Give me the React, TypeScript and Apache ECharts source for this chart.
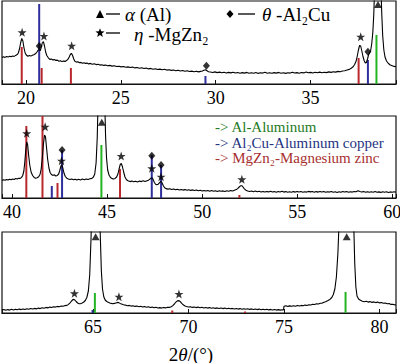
import React, { useEffect, useRef } from "react";
import * as echarts from "echarts";

// ---- X-ray diffraction scans: [2θ (°), intensity (a.u.)] ----
const scan1: [number, number][] = [
[18.74,26.5],[18.82,27.3],[18.9,26.6],[18.98,27.5],[19.06,26.9],[19.14,27.8],[19.22,27.2],[19.3,28.1],[19.38,27.6],[19.46,28.6],[19.54,29.4],[19.6,31],[19.66,35],[19.72,41],[19.78,45.5],[19.84,43],[19.9,36],[19.96,31],[20.02,29],[20.1,27.8],[20.18,28.4],[20.26,27.9],[20.34,28.8],[20.42,29.3],[20.5,30.2],[20.58,32],[20.64,33.8],[20.7,34.5],[20.75,33.2],[20.8,36],[20.86,41],[20.92,42.3],[20.98,38],[21.04,32],[21.1,28.5],[21.18,26.2],[21.26,24.6],[21.34,24.9],[21.42,24.1],[21.5,24.4],[21.58,23.6],[21.66,23.9],[21.74,22.8],[21.82,23.3],[21.9,22.4],[21.98,22.9],[22.06,22.6],[22.14,23.4],[22.22,24.8],[22.28,27],[22.34,29.5],[22.4,30.7],[22.46,28.5],[22.52,25],[22.58,22.8],[22.66,21.9],[22.74,22.3],[22.82,21.2],[22.9,21.6],[22.98,20.8],[23.06,21.3],[23.14,20.6],[23.22,20.9],[23.3,20.1],[23.4,20.6],[23.5,19.8],[23.6,20.2],[23.7,19.4],[23.8,19.7],[23.9,18.9],[24.0,19.3],[24.1,18.6],[24.2,18.9],[24.3,18.2],[24.42,18.6],[24.54,17.9],[24.66,18.2],[24.78,17.5],[24.9,17.8],[25.02,17.1],[25.14,17.5],[25.26,16.8],[25.38,17.1],[25.5,16.5],[25.62,16.9],[25.74,16.1],[25.86,16.5],[25.98,15.8],[26.1,16.2],[26.22,15.5],[26.34,15.9],[26.46,15.1],[26.58,15.6],[26.7,14.8],[26.82,15.2],[26.94,14.5],[27.06,14.9],[27.18,14.2],[27.3,14.7],[27.42,13.9],[27.54,14.3],[27.66,13.6],[27.78,14.0],[27.9,13.3],[28.02,13.8],[28.14,13.0],[28.26,13.5],[28.38,12.7],[28.5,13.2],[28.62,12.5],[28.74,12.9],[28.86,12.2],[28.98,12.7],[29.1,12.1],[29.2,12.6],[29.3,13.0],[29.38,13.8],[29.46,14.2],[29.54,13.3],[29.62,12.3],[29.72,12.0],[29.84,11.5],[29.96,12.1],
[30.08,11.4],[30.2,11.9],[30.32,11.2],[30.44,11.7],[30.56,11.0],[30.68,11.6],[30.8,11.1],[30.92,11.8],[31.04,11.0],[31.16,11.5],[31.28,10.8],[31.4,11.4],[31.52,10.9],[31.64,11.6],[31.76,10.7],[31.88,11.3],[32.0,10.8],[32.12,11.5],[32.24,10.6],[32.36,11.2],[32.48,10.9],[32.6,11.7],[32.72,10.8],[32.84,11.3],[32.96,10.7],[33.08,11.4],[33.2,10.9],[33.32,11.6],[33.44,10.8],[33.56,11.2],[33.68,10.6],[33.8,11.3],[33.92,10.9],[34.04,11.7],[34.16,11.0],[34.28,11.4],[34.4,10.8],[34.52,11.5],[34.64,11.1],[34.76,12.0],[34.88,11.2],[35.0,11.6],[35.12,11.0],[35.24,11.7],[35.36,11.2],[35.48,11.9],[35.6,11.3],[35.72,11.8],[35.84,11.4],[35.96,12.1],[36.08,11.6],[36.2,12.3],[36.32,11.9],[36.44,12.6],[36.56,12.3],[36.68,13.0],[36.8,13.2],[36.92,14.0],[37.04,14.6],[37.14,15.8],[37.24,17.2],[37.32,19.5],[37.4,23],[37.46,28],[37.52,34],[37.58,38.5],[37.64,38],[37.7,33],[37.76,27.5],[37.82,23.5],[37.88,21],[37.94,21.5],[38.0,25],[38.05,29],[38.1,31],[38.16,33],[38.22,40],[38.28,52],[38.33,70],[38.38,100],[38.55,140],[38.7,100],[38.75,70],[38.8,48],[38.86,34],[38.92,27],[39.0,23],[39.1,20.5],[39.2,19],[39.3,18.3],[39.4,17.6],[39.5,17.2]
];

const scan2: [number, number][] = [
[39.47,17.6],[39.55,18.3],[39.63,17.8],[39.71,18.6],[39.79,18.0],[39.87,18.8],[39.95,18.3],[40.03,19.1],[40.11,18.6],[40.19,19.4],[40.27,18.9],[40.35,19.7],[40.43,19.6],[40.5,20.6],[40.56,22.5],[40.62,27],[40.67,36],[40.72,48],[40.77,56],[40.82,53],[40.87,43],[40.93,33],[41.0,26],[41.08,22.5],[41.16,20.6],[41.24,19.8],[41.32,20.3],[41.4,21.2],[41.47,23.5],[41.53,29],[41.59,40],[41.65,54],[41.71,63],[41.76,61],[41.81,51],[41.87,39],[41.94,30],[42.0,25.5],[42.07,23.5],[42.14,22.6],[42.22,23.2],[42.3,22.0],[42.38,22.6],[42.45,24],[42.51,27.5],[42.57,32],[42.62,33],[42.67,30],[42.73,25],[42.8,21.5],[42.88,19.8],[42.96,19.0],[43.05,18.4],[43.14,19.0],[43.23,18.2],[43.32,18.8],[43.41,18.0],[43.5,18.7],[43.6,18.1],[43.7,18.9],[43.8,18.2],[43.9,19.0],[44.0,18.4],[44.1,19.2],[44.2,19.6],[44.28,21],[44.35,24],[44.42,35],[44.48,60],[44.53,100],[44.58,140],[44.7,165],[44.82,140],[44.87,100],[44.92,62],[44.97,40],[45.03,28],[45.1,23],[45.18,20.5],[45.26,19.4],[45.34,19.0],[45.42,19.6],[45.5,21],[45.57,24],[45.63,29],[45.69,33.5],[45.75,34.5],[45.81,31],[45.87,26],[45.94,21],[46.02,18.3],[46.1,17.2],[46.2,16.4],[46.3,16.9],[46.4,16.2],[46.5,16.8],[46.6,16.1],[46.7,16.9],[46.8,16.4],[46.9,17.2],[47.0,16.6],[47.1,17.3],[47.18,17.8],[47.25,18.9],[47.31,19.8],[47.36,20.2],[47.42,18.6],[47.48,15.8],[47.55,13.8],[47.62,13.2],[47.69,13.8],[47.75,15.2],[47.8,16.2],[47.85,16.5],[47.9,14.8],[47.96,12.2],[48.03,10.3],[48.1,9.4],[48.2,8.9],[48.3,9.3],[48.4,8.5],[48.5,9.0],[48.6,8.2],[48.7,8.8],[48.8,8.0],[48.9,8.6],[49.0,7.9],[49.1,8.4],[49.2,7.7],[49.3,8.3],[49.4,7.6],[49.5,8.1],[49.6,7.4],[49.7,8.0],[49.8,7.2],[49.9,7.8],[50.0,7.0],[50.1,7.6],[50.2,6.9],[50.3,7.5],[50.4,6.8],[50.5,7.4],[50.6,6.7],[50.7,7.2],[50.8,6.6],[50.9,7.3],[51.0,6.7],[51.1,7.1],[51.2,6.5],[51.3,7.2],[51.4,6.8],[51.5,7.4],[51.6,7.0],[51.7,7.8],[51.8,8.4],[51.88,9.6],[51.95,11],[52.02,12.2],[52.09,12.3],[52.15,11],[52.22,9.2],[52.3,7.8],[52.4,7.0],[52.5,6.5],[52.6,7.0],[52.7,6.3],[52.8,6.9],[52.9,6.2],[53.0,6.7],[53.1,6.0],[53.2,6.6],[53.3,5.9],[53.4,6.5],[53.5,6.1],[53.6,6.8],[53.7,6.0],[53.8,6.4],[53.9,5.8],[54.0,6.5],[54.1,6.0],[54.2,6.7],[54.3,5.9],[54.4,6.4],[54.5,5.8],[54.6,6.3],[54.7,5.7],[54.8,6.4],[54.9,5.9],[55.0,6.6],[55.1,6.0],[55.2,6.5],[55.3,5.8],[55.4,6.3],[55.5,5.9],[55.6,6.6],[55.7,6.1],[55.8,6.5],[55.9,5.8],[56.0,6.4],[56.1,5.9],[56.2,6.6],[56.3,6.0],[56.4,6.5],[56.5,5.7],[56.6,6.3],[56.7,5.9],[56.8,6.5],[56.9,5.8],[57.0,6.2],[57.1,5.6],[57.2,6.3],[57.3,5.8],[57.4,6.6],[57.5,6.0],[57.6,6.4],[57.7,5.8],[57.8,6.3],[57.9,5.9],[58.0,6.5],[58.1,6.3],[58.2,7.2],[58.3,6.5],[58.4,6.0],[58.5,6.4],[58.6,5.8],[58.7,6.3],[58.8,5.7],[58.9,6.2],[59.0,5.8],[59.1,6.4],[59.2,5.7],[59.3,6.1],[59.4,5.6],[59.5,6.3],[59.6,5.8],[59.7,6.2],[59.8,5.5],[59.9,6.1],[60.0,5.7],[60.1,6.2],[60.2,5.8]
];

const scan3: [number, number][] = [
[60.24,3.0],[60.34,3.6],[60.44,2.8],[60.54,3.4],[60.64,2.9],[60.74,3.7],[60.84,3.1],[60.94,3.8],[61.04,3.2],[61.14,3.9],[61.24,3.4],[61.34,4.1],[61.44,3.5],[61.54,4.2],[61.64,3.8],[61.74,4.5],[61.84,3.9],[61.94,4.6],[62.04,4.1],[62.14,4.9],[62.24,4.4],[62.34,5.2],[62.44,4.8],[62.54,5.6],[62.64,5.1],[62.74,5.9],[62.84,5.5],[62.94,6.3],[63.04,5.9],[63.14,6.6],[63.24,6.2],[63.34,7.0],[63.44,6.7],[63.54,7.4],[63.64,7.6],[63.72,8.6],[63.8,10.2],[63.88,12],[63.96,13.6],[64.04,13.2],[64.12,11.5],[64.2,10],[64.28,9.2],[64.36,9.4],[64.44,10],[64.52,11],[64.6,12.5],[64.68,15.5],[64.76,22],[64.83,38],[64.9,75],[64.97,130],[65.15,170],[65.32,130],[65.38,80],[65.44,42],[65.5,24],[65.57,16],[65.64,13],[65.72,11.5],[65.8,10.8],[65.88,10.1],[65.96,9.6],[66.04,9.2],[66.12,9.6],[66.2,10.1],[66.28,10.6],[66.35,10.4],[66.42,9.6],[66.5,8.9],[66.6,8.2],[66.7,7.9],[66.8,7.3],[66.9,7.6],[67.0,6.9],[67.1,7.2],[67.2,6.6],[67.3,6.9],[67.4,6.3],[67.5,6.7],[67.6,6.0],[67.7,6.4],[67.8,5.8],[67.9,6.2],[68.0,5.5],[68.1,5.9],[68.2,5.2],[68.3,5.7],[68.4,5.0],[68.5,5.4],[68.6,4.9],[68.7,5.5],[68.8,5.1],[68.9,5.8],[69.0,5.6],[69.1,6.3],[69.18,7.4],[69.26,9.0],[69.34,10.8],[69.42,12.1],[69.5,12.4],[69.58,11.2],[69.66,9.4],[69.74,8.0],[69.82,7.0],[69.9,6.5],[70.0,6.0],[70.1,6.3],[70.2,5.6],[70.3,6.0],[70.4,5.4],[70.5,5.9],[70.6,5.2],[70.7,5.7],[70.8,5.0],[70.9,5.5],[71.0,4.9],[71.1,5.4],[71.2,4.7],[71.3,5.2],[71.4,4.6],[71.5,5.1],[71.6,4.5],[71.7,5.0],[71.8,4.4],[71.9,4.9],[72.0,4.3],[72.1,4.8],[72.2,4.2],[72.3,4.6],[72.4,4.0],[72.5,4.5],[72.6,3.9],[72.7,4.4],[72.8,3.8],[72.9,4.3],[73.0,3.7],[73.1,4.2],[73.2,3.6],[73.3,4.1],[73.4,3.5],[73.5,4.1],[73.6,3.4],[73.7,3.9],[73.8,3.3],[73.9,3.8],[74.0,3.2],[74.1,3.7],[74.2,3.1],[74.3,3.6],[74.4,3.0],[74.5,3.5],[74.6,2.9],[74.7,3.4],[74.8,2.9],[74.9,3.3],[74.97,3.0],[75.0,6.8],[75.1,7.2],[75.2,6.6],[75.3,7.1],[75.4,6.7],[75.5,7.3],[75.6,6.8],[75.7,7.5],[75.8,7.0],[75.9,7.6],[76.0,7.2],[76.1,7.9],[76.2,7.5],[76.3,8.2],[76.4,8.0],[76.5,8.7],[76.6,8.5],[76.7,9.2],[76.8,9.0],[76.9,9.8],[77.0,9.9],[77.1,10.8],[77.2,11.6],[77.3,12.5],[77.4,13.6],[77.5,15.5],[77.58,18.5],[77.66,24],[77.74,36],[77.82,60],[77.9,100],[77.98,150],[78.3,175],[78.58,150],[78.64,95],[78.7,50],[78.76,26],[78.82,17],[78.9,14],[79.0,12.8],[79.1,11.8],[79.2,11.3],[79.3,11.7],[79.4,10.9],[79.5,11.4],[79.6,10.6],[79.7,11.1],[79.8,10.4],[79.9,10.9],[80.0,10.1],[80.1,10.5],[80.2,9.7],[80.3,9.9],[80.4,9.2],[80.5,9.4],[80.6,8.6],[80.7,8.8],[80.8,8.1],[80.86,8.3]
];

// Reference (PDF card) lines: [2θ, relative height, phase] phase 0=Al, 1=Al2Cu, 2=MgZn2
const sticks1: [number, number, number][] = [[19.78,37,2],[20.70,80,1],[20.83,16,2],[22.37,16,2],[29.46,8,1],[37.53,26,2],[38.02,24,1],[38.47,49,0]];
const sticks2: [number, number, number][] = [[40.75,72,2],[41.6,83,2],[42.09,12,1],[42.39,15,2],[42.63,48,1],[44.7,53,0],[45.68,29,2],[47.35,43,1],[47.84,33,1],[51.96,3,2]];
const sticks3: [number, number, number][] = [[64.98,3,1],[65.1,20,0],[69.15,2.5,2],[72.96,1.5,2],[78.22,21,0]];

// Phase markers above peaks: [2θ, height]
const stars1: [number, number][] = [[19.8,51.7],[20.95,48],[22.41,38.3],[37.64,47.3]];
const diamonds1: [number, number][] = [[20.70,38],[29.51,18.3],[38.02,32.3]];
const triangles1: [number, number][] = [[38.55,79.5]];
const stars2: [number, number][] = [[40.77,64.7],[41.74,71.3],[42.6,37.3],[45.74,42],[47.35,29.7],[47.84,21.3],[52.09,18.7]];
const diamonds2: [number, number][] = [[42.63,48],[47.35,42.3],[47.84,33]];
const triangles2: [number, number][] = [[44.72,75.7]];
const stars3: [number, number][] = [[64.03,19.7],[66.36,16.3],[69.5,19]];
const diamonds3: [number, number][] = [];
const triangles3: [number, number][] = [[65.14,76.3],[78.28,76.3]];

const xRanges: [number, number][] = [[18.74, 39.5], [39.47, 60.2], [60.24, 80.86]];
const tickLabels1 = [20, 25, 30, 35];
const tickLabels2 = [40, 45, 50, 55, 60];
const tickLabels3 = [65, 70, 75, 80];
const phaseColors = ["#22b422", "#2e2e9c", "#b8282c"];
const phaseNotes = ["-> Al-Aluminum", "-> Al₂Cu-Aluminum copper", "-> MgZn₂-Magnesium zinc"];
const phaseNoteColors = ["#1f7a24", "#26337f", "#a8302f"];

const FONT = "Liberation Serif";
const STAR = "path://M50,0 L61.8,35.1 L97.6,34.5 L69,56.2 L79.4,90.5 L50,70 L20.6,90.5 L31,56.2 L2.4,34.5 L38.2,35.1 Z";

const grids = [
  { left: 2, right: 4, top: 1, height: 83 },
  { left: 2, right: 4, top: 116, height: 82 },
  { left: 2, right: 4, top: 232, height: 81 },
];

function starPoints(cx: number, cy: number, r: number) {
  const pts: number[][] = [];
  for (let i = 0; i < 10; i++) {
    const a = -Math.PI / 2 + (i * Math.PI) / 5;
    const rr = i % 2 === 0 ? r : r * 0.42;
    pts.push([cx + rr * Math.cos(a), cy + rr * Math.sin(a)]);
  }
  return pts;
}

let measureCtx: CanvasRenderingContext2D | null = null;
function textWidth(t: string, size: number, italic: boolean) {
  if (!measureCtx) measureCtx = document.createElement("canvas").getContext("2d");
  if (!measureCtx) return t.length * size * 0.5;
  measureCtx.font = `${italic ? "italic " : ""}${size}px "${FONT}"`;
  return measureCtx.measureText(t).width;
}

type Seg = { t: string; it?: boolean };
function segText(x: number, y: number, segs: Seg[], size: number, fill: string, center = false) {
  const widths = segs.map((s) => textWidth(s.t, size, !!s.it));
  const total = widths.reduce((a, b) => a + b, 0);
  let cx = center ? x - total / 2 : x;
  return segs.map((s, k) => {
    const el = {
      type: "text",
      x: cx,
      y,
      style: { text: s.t, fontFamily: FONT, fontSize: size, fontStyle: s.it ? "italic" : "normal", fill, align: "left", verticalAlign: "middle" },
    };
    cx += widths[k];
    return el;
  });
}

export default function App() {
  const ref = useRef<HTMLDivElement>(null);
  useEffect(() => {
    if (!ref.current) return;
    const chart = echarts.init(ref.current, undefined, { renderer: "svg" });
    const scans = [scan1, scan2, scan3];
    const sticks = [sticks1, sticks2, sticks3];
    const stars = [stars1, stars2, stars3];
    const diamonds = [diamonds1, diamonds2, diamonds3];
    const triangles = [triangles1, triangles2, triangles3];
    const tickLabels = [tickLabels1, tickLabels2, tickLabels3];

    const series: any[] = [];
    for (let i = 0; i < 3; i++) {
      series.push({
        type: "custom",
        xAxisIndex: i,
        yAxisIndex: i,
        clip: true,
        data: sticks[i],
        renderItem: (_p: any, api: any) => {
          const x = api.value(0);
          const h = api.value(1);
          const k = api.value(2);
          const a = api.coord([x, 0]);
          const b = api.coord([x, h]);
          return {
            type: "line",
            shape: { x1: a[0], y1: a[1], x2: b[0], y2: b[1] },
            style: { stroke: phaseColors[k], lineWidth: 2 },
          };
        },
        z: 1,
      });
      series.push({
        type: "line",
        xAxisIndex: i,
        yAxisIndex: i,
        data: scans[i],
        symbol: "none",
        showSymbol: false,
        clip: true,
        lineStyle: { color: "#000", width: 1.1 },
        z: 2,
      });
      series.push({ type: "scatter", xAxisIndex: i, yAxisIndex: i, data: stars[i], symbol: STAR, symbolSize: 9, itemStyle: { color: "#000" }, z: 3 });
      series.push({ type: "scatter", xAxisIndex: i, yAxisIndex: i, data: diamonds[i], symbol: "diamond", symbolSize: [7, 8], itemStyle: { color: "#000" }, z: 3 });
      series.push({ type: "scatter", xAxisIndex: i, yAxisIndex: i, data: triangles[i], symbol: "triangle", symbolSize: [8, 7], itemStyle: { color: "#000" }, z: 3 });
    }

    const option: any = {
      animation: false,
      grid: grids.map((g) => ({ ...g, show: true, borderColor: "#111", borderWidth: 1.2, backgroundColor: "transparent" })),
      xAxis: xRanges.map((r, i) => ({
        type: "value",
        gridIndex: i,
        min: r[0],
        max: r[1],
        splitLine: { show: false },
        axisLine: { show: true, lineStyle: { color: "#111", width: 1.2 } },
        axisTick: { show: true, inside: true, length: 4, lineStyle: { color: "#111" } },
        axisLabel: { show: false },
      })),
      yAxis: grids.map((g, i) => ({ type: "value", gridIndex: i, min: 0, max: g.height, show: false })),
      series,
    };
    chart.setOption(option);

    // tick labels placed through the axes' own scales
    const labelEls: any[] = [];
    tickLabels.forEach((arr, i) => {
      const yBase = chart.convertToPixel({ yAxisIndex: i }, 0) as number;
      arr.forEach((v) => {
        const x = chart.convertToPixel({ xAxisIndex: i }, v) as number;
        labelEls.push({
          type: "text",
          x,
          y: yBase + 5,
          style: { text: String(v), fontFamily: FONT, fontSize: 18, fill: "#000", align: "center", verticalAlign: "top" },
        });
      });
    });

    const legendLine = (x1: number, x2: number, y: number) => ({
      type: "line",
      shape: { x1, y1: y, x2, y2: y },
      style: { stroke: "#000", lineWidth: 1.3 },
    });

    chart.setOption({
      graphic: [
        ...labelEls,
        { type: "polygon", shape: { points: [[96, 18], [104, 18], [100, 10]] }, style: { fill: "#000" } },
        legendLine(106, 120, 14),
        ...segText(125, 14, [{ t: "α", it: true }, { t: " (Al)" }], 19, "#000"),
        { type: "polygon", shape: { points: starPoints(100, 33, 4.8) }, style: { fill: "#000" } },
        legendLine(106, 120, 33),
        ...segText(134, 34, [{ t: "η", it: true }, { t: " -MgZn₂" }], 19, "#000"),
        { type: "polygon", shape: { points: [[230, 10], [233.5, 14], [230, 18], [226.5, 14]] }, style: { fill: "#000" } },
        legendLine(238, 255, 14),
        ...segText(262, 14, [{ t: "θ", it: true }, { t: " -Al₂Cu" }], 19, "#000"),
        ...phaseNotes.map((t, k) => ({
          type: "text",
          x: 215,
          y: 127 + k * 15.5,
          style: { text: t, fontFamily: FONT, fontSize: 15, fill: phaseNoteColors[k], align: "left", verticalAlign: "middle" },
        })),
        ...segText(191, 354, [{ t: "2" }, { t: "θ", it: true }, { t: "/(°)" }], 19, "#000", true),
      ],
    });
    return () => chart.dispose();
  }, []);
  return <div ref={ref} style={{ position: "absolute", left: 0, top: 0, width: 400, height: 363 }} />;
}
